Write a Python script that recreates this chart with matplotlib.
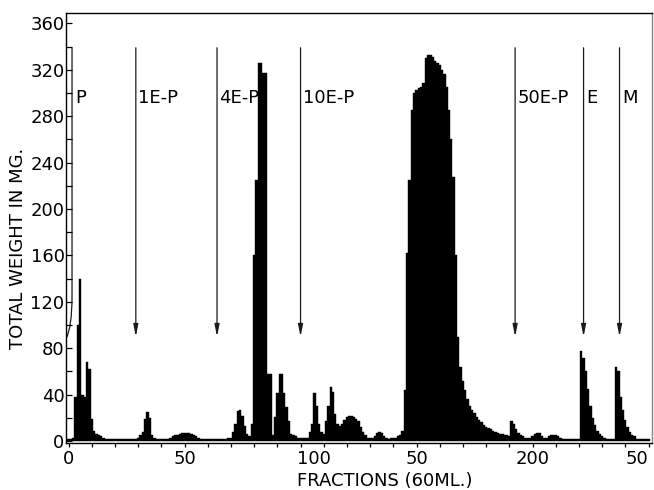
import numpy as np
import matplotlib

matplotlib.use('Agg')

from matplotlib import pyplot as plt
from matplotlib.path import Path
from matplotlib.patches import PathPatch
from matplotlib.transforms import ScaledTranslation

# total weight (mg) per 60 ml fraction, fractions 0..250
weights = [
    2, 2, 3, 38, 100, 140, 40, 38, 68, 62,          # 0-9
    19, 9, 6, 5, 4, 3, 2, 2, 2, 2,                  # 10-19
    2, 2, 2, 2, 2, 2, 2, 2, 2, 2,                   # 20-29
    3, 5, 8, 19, 25, 20, 5, 3, 2, 2,                # 30-39
    2, 2, 2, 2, 3, 4, 5, 5, 6, 7,                   # 40-49
    7, 7, 7, 6, 5, 4, 3, 2, 2, 2,                   # 50-59
    2, 2, 2, 2, 2, 2, 2, 2, 2, 3,                   # 60-69
    3, 8, 15, 26, 27, 22, 13, 6, 4, 15,             # 70-79
    160, 225, 326, 326, 317, 317, 58, 58, 5, 21,    # 80-89
    41, 58, 58, 41, 29, 17, 6, 5, 4, 3,             # 90-99
    3, 3, 3, 3, 8, 15, 41, 30, 15, 8,               # 100-109
    6, 17, 30, 47, 42, 23, 15, 13, 15, 18,          # 110-119
    21, 22, 22, 21, 19, 17, 12, 8, 5, 3,            # 120-129
    3, 3, 4, 7, 8, 7, 4, 3, 2, 3,                   # 130-139
    3, 3, 4, 5, 9, 44, 162, 225, 285, 300,          # 140-149
    303, 304, 305, 309, 330, 333, 333, 331, 328, 326,  # 150-159
    324, 320, 316, 305, 285, 260, 228, 160, 90, 64,    # 160-169
    52, 44, 36, 30, 27, 24, 21, 18, 16, 14,         # 170-179
    12, 11, 10, 9, 8, 7, 6, 6, 5, 5,                # 180-189
    4, 17, 15, 10, 7, 5, 4, 3, 3, 3,                # 190-199
    4, 6, 7, 7, 4, 3, 3, 4, 5, 5,                   # 200-209
    5, 4, 3, 2, 2, 2, 2, 2, 2, 2,                   # 210-219
    2, 78, 72, 60, 45, 30, 20, 14, 9, 6,            # 220-229
    4, 3, 2, 2, 2, 2, 64, 60, 38, 27,               # 230-239
    18, 12, 8, 5, 4, 2, 2, 2, 2, 2,                 # 240-249
    2,                                              # 250
]
fractions = np.arange(len(weights))

# solvent changes (fraction where each eluent starts)
eluent_start = [29, 64, 100, 192.5, 222, 237.5]
eluent_names = ['1E-P', '4E-P', '10E-P', '50E-P', 'E', 'M']
first_eluent = 'P'
first_start = 1.5

xtick_pos = [0, 50, 100, 150, 200, 250]
xtick_labels = ['0', '50', '100', '50', '200', '50']
# hand lettered labels sit a little off their ticks (points)
xtick_nudge = [0, 0, 10, 0, 0, -8]

plt.rcParams['font.family'] = ['DejaVu Sans']

fig = plt.figure(figsize=(6.54, 4.90), dpi=100)
ax = fig.add_axes([66 / 654, 1 - 443 / 490, 586 / 654, 430 / 490])

ax.bar(fractions, weights, width=1.0, color='black', edgecolor='black',
       linewidth=0.3, zorder=3)

ax.set_xlim(-1.1, 251.5)
ax.set_ylim(-1.7, 369)

# eluent arrows
arrow_top, arrow_tip, label_y = 339, 90, 296
for x, name in zip(eluent_start, eluent_names):
    ax.annotate('', xy=(x, arrow_tip), xytext=(x, arrow_top),
                arrowprops=dict(arrowstyle='-|>,head_length=0.6,head_width=0.12',
                                mutation_scale=12, lw=0.9, color='#1a1a1a',
                                shrinkA=0, shrinkB=0),
                zorder=1)
    ax.text(x + 1.0, label_y, name, fontsize=13, va='center', ha='left', zorder=1)

# first eluent line curves back into the axis
verts = [(first_start, arrow_top), (first_start, 125),
         (first_start, 98), (-1.1, 88)]
codes = [Path.MOVETO, Path.LINETO, Path.CURVE3, Path.CURVE3]
ax.add_patch(PathPatch(Path(verts, codes), fill=False, lw=0.9,
                       edgecolor='#1a1a1a', zorder=1))
ax.text(first_start + 1.3, label_y, first_eluent, fontsize=13, va='center',
        ha='left', zorder=1)

ax.set_yticks(np.arange(0, 361, 40))
ax.set_yticks(np.arange(0, 361, 20), minor=True)
ax.set_xticks(xtick_pos)
ax.set_xticklabels(xtick_labels)
ax.set_xticks(np.arange(0, 251, 10), minor=True)

ax.tick_params(axis='y', which='both', direction='in', length=4, width=0.9,
               pad=1, labelsize=13)
ax.tick_params(axis='x', which='both', direction='out', length=3, width=0.9,
               pad=2, labelsize=13)

for lab, dx in zip(ax.get_xticklabels(), xtick_nudge):
    lab.set_transform(lab.get_transform() +
                      ScaledTranslation(dx / 72, 0, fig.dpi_scale_trans))

for s in ax.spines.values():
    s.set_linewidth(1.0)
ax.spines['right'].set_color('#888888')

ax.set_ylabel('TOTAL WEIGHT IN MG.', fontsize=13)
ax.yaxis.set_label_coords(-0.066, 0.453)
ax.set_xlabel('FRACTIONS (60ML.)', fontsize=13)
ax.xaxis.set_label_coords(0.544, -0.068)

plt.savefig('out.png', dpi=100)
